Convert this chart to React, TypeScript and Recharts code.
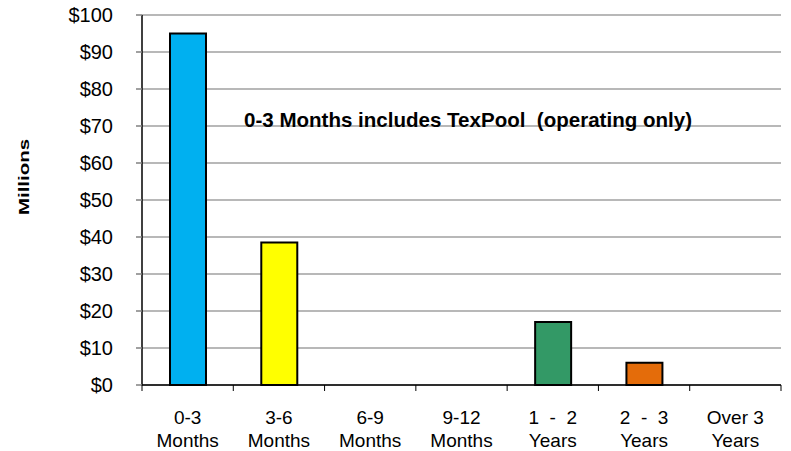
import React from 'react';
import { BarChart, Bar, XAxis, YAxis, CartesianGrid, Cell } from 'recharts';

const categories = ['0-3\nMonths', '3-6\nMonths', '6-9\nMonths', '9-12\nMonths', '1  -  2\nYears', '2  -  3\nYears', 'Over 3\nYears'];
const values = [95, 38.5, 0, 0, 17, 6, 0];
const barColors = ['#00B0F0', '#FFFF00', '#FFFF00', '#FFFF00', '#339966', '#E46C0A', '#E46C0A'];
const yTicks = [0, 10, 20, 30, 40, 50, 60, 70, 80, 90, 100];

const data = categories.map((name, i) => ({ name, value: values[i] }));

const FONT = '"Liberation Sans", Arial, sans-serif';

// two-line category label plus the tick marks that sit on the band edges
function CategoryTick(props: any) {
  const { x, y, payload, index } = props;
  const half = payload.offset ?? 0;
  const lines = String(payload.value).split('\n');
  const axisY = y - 2;
  return (
    <g>
      <line x1={x - half} x2={x - half} y1={axisY} y2={axisY + 6} stroke="#000" strokeWidth={1} />
      {index === categories.length - 1 && (
        <line x1={x + half} x2={x + half} y1={axisY} y2={axisY + 6} stroke="#000" strokeWidth={1} />
      )}
      <text x={x} y={axisY} textAnchor="middle" fontSize={19} fontFamily={FONT} fill="#000" style={{ whiteSpace: 'pre' }}>
        {lines.map((l, i) => (
          <tspan key={i} x={x} y={axisY + 39 + i * 23}>
            {l}
          </tspan>
        ))}
      </text>
    </g>
  );
}

export default function App() {
  return (
    <div style={{ position: 'absolute', left: 0, top: 0, width: 791, height: 451, background: '#fff' }}>
      <BarChart width={791} height={451} data={data} margin={{ top: 15, right: 10, left: 0, bottom: 0 }} barSize={36}>
        <CartesianGrid vertical={false} stroke="#A0A0A0" strokeWidth={1.5} />
        <XAxis
          dataKey="name"
          height={66}
          interval={0}
          tickLine={false}
          tickSize={0}
          tickMargin={2}
          axisLine={{ stroke: '#000', strokeWidth: 1.5 }}
          tick={<CategoryTick />}
        />
        <YAxis
          width={142}
          domain={[0, 100]}
          ticks={yTicks}
          interval={0}
          tickFormatter={(v) => `$${v}`}
          tickSize={6}
          tickMargin={23}
          tickLine={{ stroke: '#808080', strokeWidth: 1.5 }}
          axisLine={{ stroke: '#000', strokeWidth: 1.5 }}
          tick={{ fontSize: 20, fontFamily: FONT, fill: '#000' }}
        />
        <Bar dataKey="value" stroke="#000" strokeWidth={2} isAnimationActive={false}>
          {data.map((_, i) => (
            <Cell key={`cell-${i}`} fill={barColors[i]} />
          ))}
        </Bar>
      </BarChart>
      <svg width={791} height={451} style={{ position: 'absolute', left: 0, top: 0, pointerEvents: 'none' }}>
        <text
          x={0}
          y={0}
          transform="translate(29 177) rotate(-90)"
          textAnchor="middle"
          fontSize={15}
          fontWeight="bold"
          fontFamily={FONT}
          textLength={76}
          lengthAdjust="spacingAndGlyphs"
        >
          Millions
        </text>
        <text
          x={244}
          y={127}
          fontSize={21}
          fontWeight="bold"
          fontFamily={FONT}
          textLength={448}
          lengthAdjust="spacingAndGlyphs"
          style={{ whiteSpace: 'pre' }}
        >
          0-3 Months includes TexPool  (operating only)
        </text>
      </svg>
    </div>
  );
}
